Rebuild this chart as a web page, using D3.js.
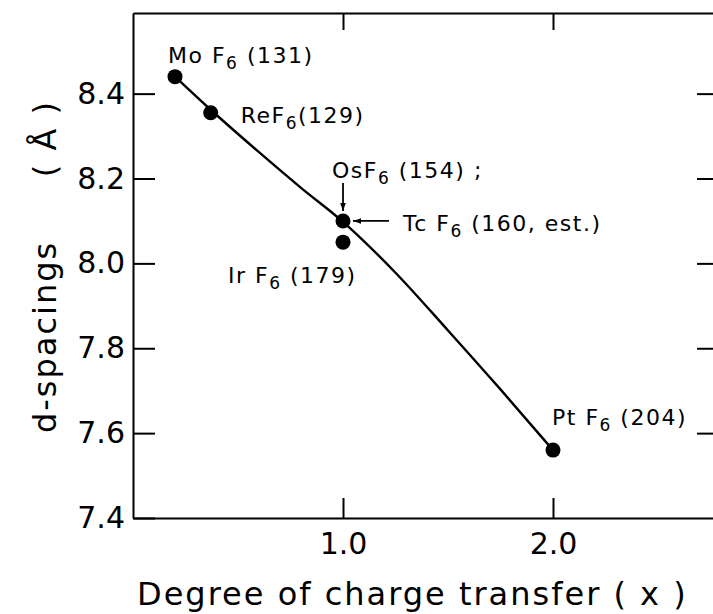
<!DOCTYPE html>
<html>
<head>
<meta charset="utf-8">
<script src="https://cdn.jsdelivr.net/npm/d3@7"></script>
<style>
	body { margin: 0; background: #fff; }
	svg { display: block; font-family: "DejaVu Sans", sans-serif; }
	.axis path, .axis line { stroke: #000; stroke-width: 2; }
	.axis text { font-size: 30px; fill: #000; font-family: "DejaVu Sans", sans-serif; }
	.title { font-size: 32px; letter-spacing: 2px; fill: #000; }
	.label { font-size: 22px; letter-spacing: 1.5px; fill: #000; white-space: pre; }
</style>
</head>
<body>
<svg id="chart"></svg>
<script>
const compounds = ['MoF6', 'ReF6', 'OsF6', 'IrF6', 'PtF6'];
const chargeTransfer = [0.2, 0.37, 1.0, 1.0, 2.0];
const dSpacing = [8.44, 8.355, 8.10, 8.05, 7.56];

// hand drawn guide curve
const curveX = [0.2, 0.37, 0.6, 0.8, 1.0, 1.25, 1.5, 1.75, 2.0];
const curveY = [8.44, 8.362, 8.262, 8.178, 8.098, 7.978, 7.842, 7.703, 7.56];

// annotations: metal, weight in brackets, and the point it belongs to
const labelMetals = ['Mo', 'Re', 'Os', 'Tc', 'Ir', 'Pt'];
const labelWeights = [' (131)', '(129)', ' (154) ;', ' (160, est.)', ' (179)', ' (204)'];
const labelX = [0.2, 0.37, 1.0, 1.0, 1.0, 2.0];
const labelY = [8.44, 8.355, 8.10, 8.10, 8.05, 7.56];

const yTicks = [7.4, 7.6, 7.8, 8.0, 8.2, 8.4];
const xTicks = [1.0, 2.0];


class CurveChart {

	/**
	* @param {string} chartSelector selector of the svg
	* @param {object} options overrides for the defaults
	*/
	constructor(chartSelector, options) {
		let defaults = {
			width: 713,
			height: 614,
			left: 133,
			top: 13,
			bottom: 518,
			right: 721,
			xDomain: [0, 2.8],
			yDomain: [7.4, 8.59],
			dotRadius: 7.5,
			// pixel offsets of every label from its point
			labelOffsets: [[-7, -14], [30, 10], [-11, -43], [60, 10], [-115, 41], [-1, -25]]
		};

		this.settings = Object.assign({}, defaults, options);
		this.chart = d3.select(chartSelector);

		this.createChart();
	}


	_initChart() {
		this.chart.attr('width', this.settings.width)
			.attr('height', this.settings.height);

		let defs = this.chart.append('defs');
		defs.append('marker')
			.attr('id', 'head')
			.attr('viewBox', '0 0 10 10')
			.attr('refX', 10)
			.attr('refY', 5)
			.attr('markerWidth', 11)
			.attr('markerHeight', 8)
			.attr('markerUnits', 'userSpaceOnUse')
			.attr('orient', 'auto')
			.append('path')
			.attr('d', 'M0,1.5L10,5L0,8.5z')
			.attr('fill', '#000');
	};


	_createScales() {
		let s = this.settings;
		this.x = d3.scaleLinear().domain(s.xDomain).range([s.left, s.right]);
		this.y = d3.scaleLinear().domain(s.yDomain).range([s.bottom, s.top]);
	};


	_createAxes() {
		let s = this.settings;

		this.chart.append('g')
			.attr('class', 'axis')
			.attr('transform', 'translate(' + s.left + ',0)')
			.call(d3.axisLeft(this.y).tickValues(yTicks).tickSize(-22).tickSizeOuter(0)
				.tickPadding(8).tickFormat(d3.format('.1f')));

		this.chart.append('g')
			.attr('class', 'axis')
			.attr('transform', 'translate(' + s.right + ',0)')
			.call(d3.axisRight(this.y).tickValues(yTicks.slice(1)).tickSize(-24).tickSizeOuter(0)
				.tickFormat(''));

		this.chart.append('g')
			.attr('class', 'axis')
			.attr('transform', 'translate(0,' + s.bottom + ')')
			.call(d3.axisBottom(this.x).tickValues(xTicks).tickSize(-20).tickSizeOuter(0)
				.tickPadding(15).tickFormat(d3.format('.1f')));

		this.chart.append('g')
			.attr('class', 'axis')
			.attr('transform', 'translate(0,' + s.top + ')')
			.call(d3.axisTop(this.x).tickValues(xTicks).tickSize(-17).tickSizeOuter(0)
				.tickFormat(''));

		// axis titles
		this.chart.append('text')
			.attr('class', 'title')
			.attr('x', 137)
			.attr('y', 605)
			.text('Degree of charge transfer  ( x )');

		let yTitle = this.chart.append('g')
			.attr('transform', 'translate(56,0) rotate(-90)');
		yTitle.append('text')
			.attr('class', 'title')
			.attr('x', -433)
			.text('d-spacings');
		yTitle.append('text')
			.attr('class', 'title')
			.attr('x', -100)
			.attr('text-anchor', 'end')
			.text('( Å )');
	};


	_addCurve() {
		let pts = curveX.map((d, i) => [d, curveY[i]]);
		let line = d3.line()
			.x((d) => this.x(d[0]))
			.y((d) => this.y(d[1]))
			.curve(d3.curveMonotoneX);

		this.chart.append('path')
			.datum(pts)
			.attr('d', line)
			.attr('fill', 'none')
			.attr('stroke', '#000')
			.attr('stroke-width', 2.4);
	};


	_addDots() {
		this.chart.append('g')
			.selectAll('circle')
			.data(compounds)
			.enter()
			.append('circle')
			.attr('cx', (d, i) => this.x(chargeTransfer[i]))
			.attr('cy', (d, i) => this.y(dSpacing[i]))
			.attr('r', this.settings.dotRadius)
			.attr('fill', '#000');
	};


	_addLabels() {
		let offsets = this.settings.labelOffsets;

		labelMetals.forEach((metal, i) => {
			let t = this.chart.append('text')
				.attr('class', 'label')
				.attr('x', this.x(labelX[i]) + offsets[i][0])
				.attr('y', this.y(labelY[i]) + offsets[i][1]);
			t.append('tspan').text(metal + (metal === 'Re' || metal === 'Os' ? '' : ' ') + 'F');
			t.append('tspan').attr('dy', 6).attr('font-size', 17).text('6');
			t.append('tspan').attr('dy', -6).text(labelWeights[i]);
		});

		// arrows pointing at the OsF6 / TcF6 dot
		let cx = this.x(1.0),
			cy = this.y(8.10);
		this.chart.append('line')
			.attr('x1', cx).attr('y1', cy - 38)
			.attr('x2', cx).attr('y2', cy - 10)
			.attr('stroke', '#000').attr('stroke-width', 1.8)
			.attr('marker-end', 'url(#head)');
		this.chart.append('line')
			.attr('x1', cx + 46).attr('y1', cy)
			.attr('x2', cx + 10).attr('y2', cy)
			.attr('stroke', '#000').attr('stroke-width', 1.8)
			.attr('marker-end', 'url(#head)');
	};


	createChart() {
		this._initChart();
		this._createScales();
		this._createAxes();
		this._addCurve();
		this._addDots();
		this._addLabels();
	};
}

new CurveChart('#chart', {});
</script>
</body>
</html>
